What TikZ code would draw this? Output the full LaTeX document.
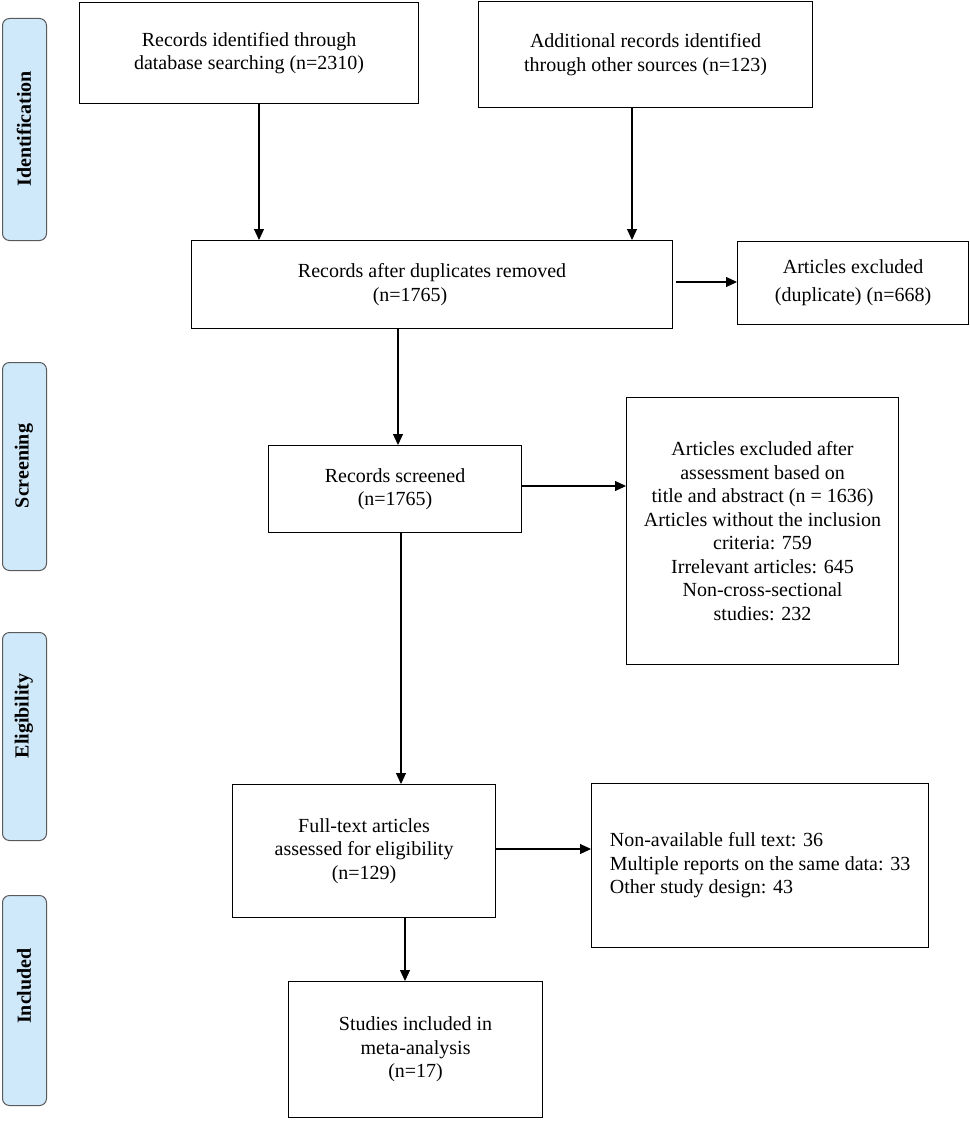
\documentclass[tikz,border=0pt]{standalone}
\usepackage{fontspec}
\setmainfont{Liberation Serif}
\usetikzlibrary{arrows.meta}
\definecolor{barfill}{RGB}{208,233,250}
\definecolor{barline}{RGB}{90,90,90}
\begin{document}
\begin{tikzpicture}[x=1pt,y=-1pt,
  txt/.style={font=\fontsize{20}{23.5}\selectfont},
  box/.style={draw=black,line width=1.1pt,inner sep=0pt,align=center,anchor=north west,txt},
  bar/.style={draw=barline,fill=barfill,line width=1pt,rounded corners=7pt,anchor=north west,inner sep=0pt,minimum width=44pt},
  barlabel/.style={rotate=90,font=\fontsize{20}{24}\selectfont\bfseries,inner sep=0pt},
  arr/.style={line width=1.1pt,-{Triangle[length=11pt,width=10pt]}}
]
\useasboundingbox (0,0) rectangle (969,1121);

% side bars
\node[bar,minimum height=222pt] (sb1) at (2,18) {};
\node[bar,minimum height=208pt] (sb2) at (2,362) {};
\node[bar,minimum height=208pt] (sb3) at (2,632) {};
\node[bar,minimum height=210pt] (sb4) at (2,895) {};
\node[barlabel] (l1) at (24,129) {Identification};
\node[barlabel] (l2) at (24,466) {Screening};
\node[barlabel] (l3) at (24,716) {Eligibility};
\node[barlabel] (l4) at (24,986) {Included};

% boxes
\node[box,minimum width=339pt,minimum height=101pt] (b1) at (79,2)
  {Records identified through\\database searching (n=2310)};
\node[box,minimum width=334pt,minimum height=106pt] (b2) at (478,1)
  {Additional records identified\\through other sources (n=123)};
\node[box,minimum width=481pt,minimum height=88pt] (b3) at (191,240)
  {Records after duplicates removed\\\hspace*{-44pt}(n=1765)};
\node[box,minimum width=231pt,minimum height=83pt,font=\fontsize{20}{28}\selectfont] (b4) at (737,241)
  {Articles excluded\\(duplicate) (n=668)};
\node[box,minimum width=253pt,minimum height=87pt] (b5) at (268,445)
  {Records screened\\(n=1765)};
\node[box,minimum width=272pt,minimum height=267pt] (b6) at (626,397)
  {Articles excluded after\\assessment based on\\title and abstract (n = 1636)\\Articles without the inclusion\\criteria: 759\\Irrelevant articles: 645\\Non-cross-sectional\\studies: 232};
\node[box,minimum width=263pt,minimum height=133pt] (b7) at (232,784)
  {Full-text articles\\assessed for eligibility\\(n=129)};
\node[box,align=left,minimum width=337pt,minimum height=164pt] (b8) at (591,783)
  {Non-available full text: 36\\Multiple reports on the same data: 33\\Other study design: 43};
\node[box,minimum width=254pt,minimum height=136pt] (b9) at (288,981)
  {Studies included in\\meta-analysis\\(n=17)};

% connectors
\draw[arr] (b1.south -| 259,0) -- (b3.north -| 259,0);
\draw[arr] (b2.south -| 632,0) -- (b3.north -| 632,0);
\draw[arr] (b3.south -| 398,0) -- (b5.north -| 398,0);
\draw[arr] ([xshift=3pt]b3.east |- 0,282) -- (b4.west |- 0,282);
\draw[arr] (b5.east |- 0,486) -- (b6.west |- 0,486);
\draw[arr] (b5.south -| 401,0) -- (b7.north -| 401,0);
\draw[arr] (b7.east |- 0,849) -- (b8.west |- 0,849);
\draw[arr] (b7.south -| 405,0) -- (b9.north -| 405,0);
\end{tikzpicture}
\end{document}
